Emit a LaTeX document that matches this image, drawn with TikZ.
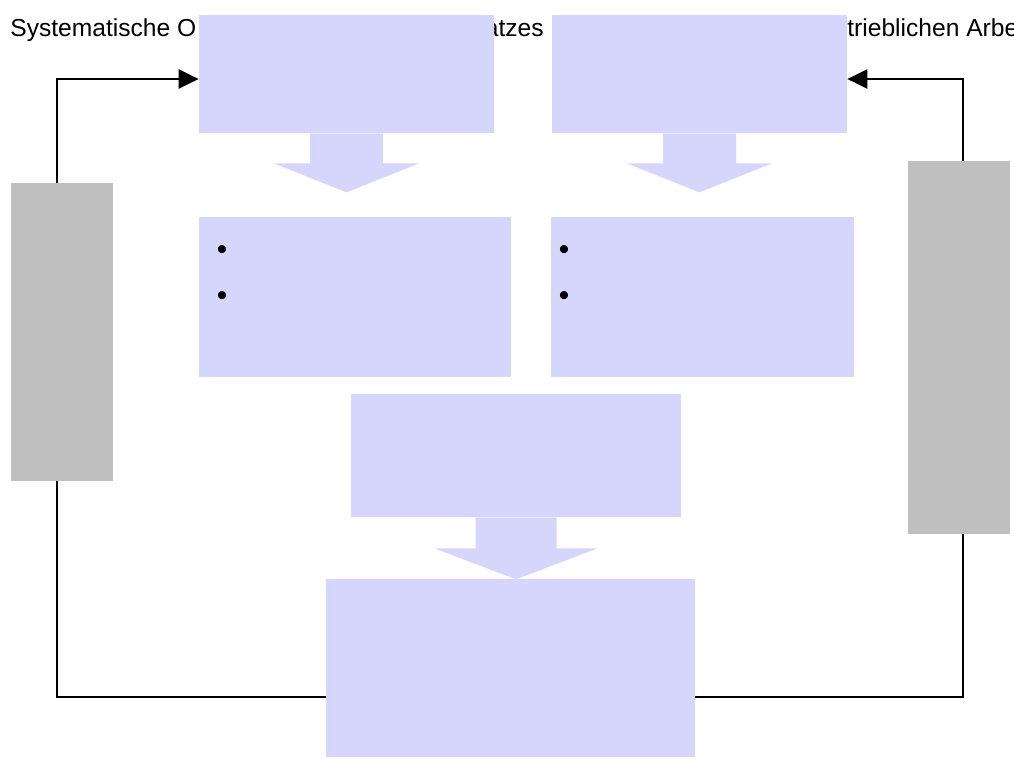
\documentclass[tikz,border=0pt]{standalone}
\usepackage{fontspec}
\setmainfont{Liberation Sans}
\usetikzlibrary{arrows.meta,backgrounds}
\definecolor{lavender}{RGB}{214,214,253}
\definecolor{sidegray}{RGB}{191,191,191}
\tikzset{
  blue box/.style 2 args={
    fill=lavender,
    minimum width={#1*0.02cm},
    minimum height={#2*0.02cm},
    inner sep=0pt,
  },
  gray box/.style 2 args={
    fill=sidegray,
    minimum width={#1*0.02cm},
    minimum height={#2*0.02cm},
    inner sep=0pt,
  },
  heading/.style={
    anchor=base west,
    inner sep=0pt,
    font=\fontsize{14pt}{17pt}\selectfont,
  },
  bullet/.style={
    inner sep=0pt,
    font=\fontsize{17pt}{20pt}\selectfont,
  },
  loop line/.style={
    line width=1.3pt,
  }
}

\begin{document}
\begin{tikzpicture}[x=0.02cm, y=-0.02cm]
        \useasboundingbox (0,0) rectangle (1014,758);

        \node [heading] (t1) at (10,36.5) {Systematische O};
        \node [heading, anchor=base east] (t2) at (544,36.5) {atzes};
        \node [heading] (t3) at (847,36.5) {trieblichen Arbeit};

        \node [blue box={295}{118}] (a) at (346.5,74) {};
        \node [blue box={295}{118}] (b) at (699.5,74) {};
        \node [blue box={312}{160}] (c) at (355,297) {};
        \node [blue box={303}{160}] (d) at (702.5,297) {};
        \node [blue box={330}{123}] (e) at (516,455.5) {};
        \node [blue box={369}{178}] (f) at (510.5,668) {};

        \node [gray box={102}{298}] (g1) at (62,332) {};
        \node [gray box={102}{373}] (g2) at (959,347.5) {};

        \node [bullet] (c1) at (222,252.5) {\textbullet};
        \node [bullet] (c2) at (222,298.5) {\textbullet};
        \node [bullet] (d1) at (564,252.5) {\textbullet};
        \node [bullet] (d2) at (564,298.5) {\textbullet};

        \foreach \n in {a,b}
          \fill [lavender, shift={(\n.south)}] (-36.5,0) -- (-36.5,30) -- (-72.5,30)
            -- (0,59) -- (72.5,30) -- (36.5,30) -- (36.5,0) -- cycle;
        \fill [lavender, shift={(e.south)}] (-40.5,0) -- (-40.5,31) -- (-81.5,31)
          -- (0,62) -- (81.5,31) -- (40.5,31) -- (40.5,0) -- cycle;

        \begin{scope}[on background layer]
          \coordinate (bl) at (57,697);
          \coordinate (tl) at (57,79);
          \coordinate (br) at (963,697);
          \coordinate (tr) at (963,79);
          \draw [loop line, -{Triangle[length=0.4cm,width=0.38cm]}]
            (f.west |- bl) -- (bl) -- (tl) -- (a.west |- tl);
          \draw [loop line, -{Triangle[length=0.4cm,width=0.38cm]}]
            (f.east |- br) -- (br) -- (tr) -- (b.east |- tr);
        \end{scope}
      \end{tikzpicture}
\end{document}
